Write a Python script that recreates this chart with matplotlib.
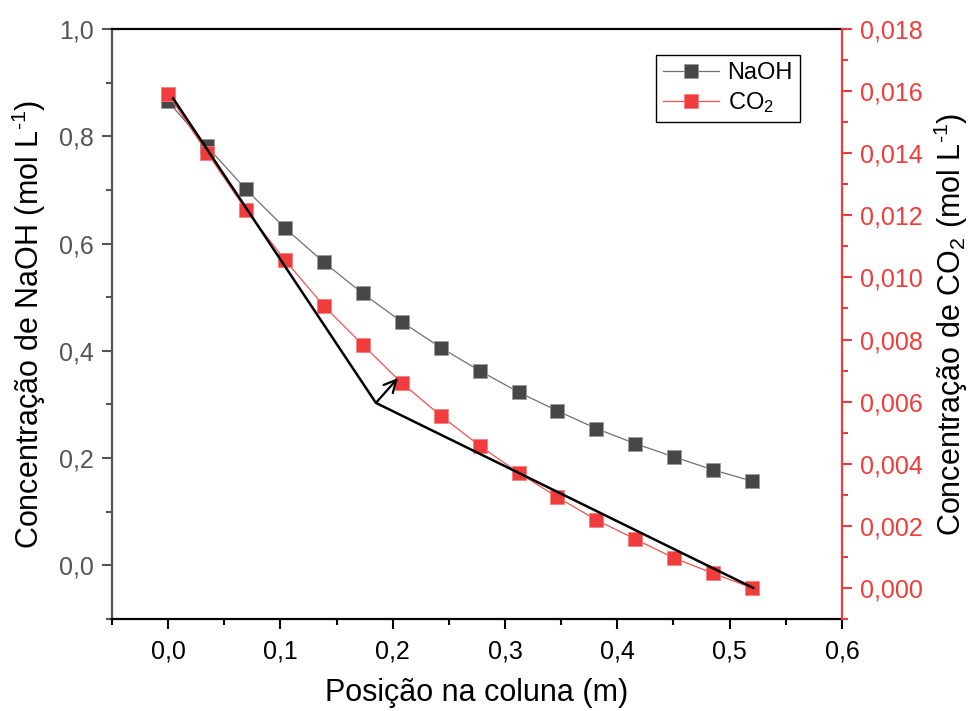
import matplotlib
matplotlib.use("Agg")
import matplotlib.pyplot as plt
from matplotlib.ticker import MultipleLocator, FuncFormatter

plt.rcParams["font.family"] = ["Liberation Sans", "DejaVu Sans"]
plt.rcParams["mathtext.fontset"] = "custom"
plt.rcParams["mathtext.rm"] = "Liberation Sans"
plt.rcParams["mathtext.it"] = "Liberation Sans"
plt.rcParams["mathtext.default"] = "regular"

# position along column (m)
position = [0.0, 0.0347, 0.0693, 0.104, 0.1387, 0.1733, 0.208, 0.2427,
            0.2773, 0.312, 0.3467, 0.3813, 0.416, 0.4507, 0.4853, 0.52]
naoh = [0.865, 0.781, 0.701, 0.629, 0.565, 0.507, 0.454, 0.406,
        0.363, 0.323, 0.288, 0.255, 0.227, 0.202, 0.178, 0.157]
co2 = [0.0159, 0.01402, 0.01217, 0.01056, 0.00908, 0.00783, 0.0066, 0.00555,
       0.00458, 0.00371, 0.00292, 0.00219, 0.00157, 0.00096, 0.00047, 0.0]

# hand-drawn guide line (right-axis units) and arrow
guide_x = [0.0044, 0.185, 0.521]
guide_y = [0.01577, 0.00596, 0.0]
arrow_tail = (0.185, 0.00596)
arrow_head = (0.2047, 0.00676)

RED = "#F03C3C"
GREY = "#555555"

fig = plt.figure(figsize=(9.72, 7.11), dpi=100)
ax = fig.add_axes([0.1152, 0.1294, 0.7510, 0.8298])
ax2 = ax.twinx()


def comma(fmt):
    return FuncFormatter(lambda v, p: fmt.format(v).replace(".", ","))


l1, = ax.plot(position, naoh, color="#707070", lw=0.9, marker="s", markersize=9.5,
              markerfacecolor="#474747", markeredgecolor="#9a9a9a", markeredgewidth=0.6,
              label="NaOH")
l2, = ax2.plot(position, co2, color="#F25050", lw=0.9, marker="s", markersize=9.5,
               markerfacecolor=RED, markeredgecolor="#F48080", markeredgewidth=0.6,
               label="CO$_2$")
ax2.plot(guide_x, guide_y, color="black", lw=1.8, zorder=5)
ax2.annotate("", xy=arrow_head, xytext=arrow_tail,
             arrowprops=dict(arrowstyle="->", color="black", lw=1.6,
                             mutation_scale=22, shrinkA=0, shrinkB=0), zorder=6)

ax.set_xlim(-0.05, 0.6)
ax.set_ylim(-0.1, 1.0)
ax2.set_ylim(-0.001, 0.018)

ax.xaxis.set_major_locator(MultipleLocator(0.1))
ax.xaxis.set_minor_locator(MultipleLocator(0.05))
ax.yaxis.set_major_locator(MultipleLocator(0.2))
ax.yaxis.set_minor_locator(MultipleLocator(0.1))
ax2.yaxis.set_major_locator(MultipleLocator(0.002))
ax2.yaxis.set_minor_locator(MultipleLocator(0.001))
ax.xaxis.set_major_formatter(comma("{:.1f}"))
ax.yaxis.set_major_formatter(comma("{:.1f}"))
ax2.yaxis.set_major_formatter(comma("{:.3f}"))

for a in (ax, ax2):
    for s in a.spines.values():
        s.set_linewidth(1.6)
ax.spines["left"].set_color(GREY)
ax.spines["right"].set_visible(False)
ax2.spines["left"].set_visible(False)
ax2.spines["right"].set_color(RED)
ax2.spines["bottom"].set_visible(False)
ax2.spines["top"].set_visible(False)

ax.tick_params(axis="x", which="major", direction="out", length=7, width=1.5,
               labelsize=18, colors="black", pad=8)
ax.tick_params(axis="x", which="minor", direction="out", length=4, width=1.5)
ax.tick_params(axis="y", which="major", direction="out", length=7, width=1.5,
               labelsize=18, colors=GREY, pad=6)
ax.tick_params(axis="y", which="minor", direction="out", length=4, width=1.5, colors=GREY)
ax2.tick_params(axis="y", which="major", direction="out", length=7, width=1.5,
                labelsize=18, colors=RED, pad=6)
ax2.tick_params(axis="y", which="minor", direction="out", length=4, width=1.5, colors=RED)

ax.set_xlabel("Posição na coluna (m)", fontsize=22, labelpad=10)
ax.set_ylabel("Concentração de NaOH (mol L$^{\\text{-}1}$)", fontsize=22, labelpad=8)
ax2.set_ylabel("Concentração de CO$_2$ (mol L$^{\\text{-}1}$)", fontsize=22, labelpad=6)

leg = ax2.legend([l1, l2], ["NaOH", "CO$_2$"], loc="upper right",
                 bbox_to_anchor=(0.9425, 0.956), borderaxespad=0, fontsize=17,
                 frameon=True, fancybox=False, framealpha=1, edgecolor="black",
                 handlelength=2.4, handletextpad=0.35, borderpad=0.3,
                 labelspacing=0.25)
leg.get_frame().set_linewidth(1.0)

fig.savefig("out.png", dpi=100)
